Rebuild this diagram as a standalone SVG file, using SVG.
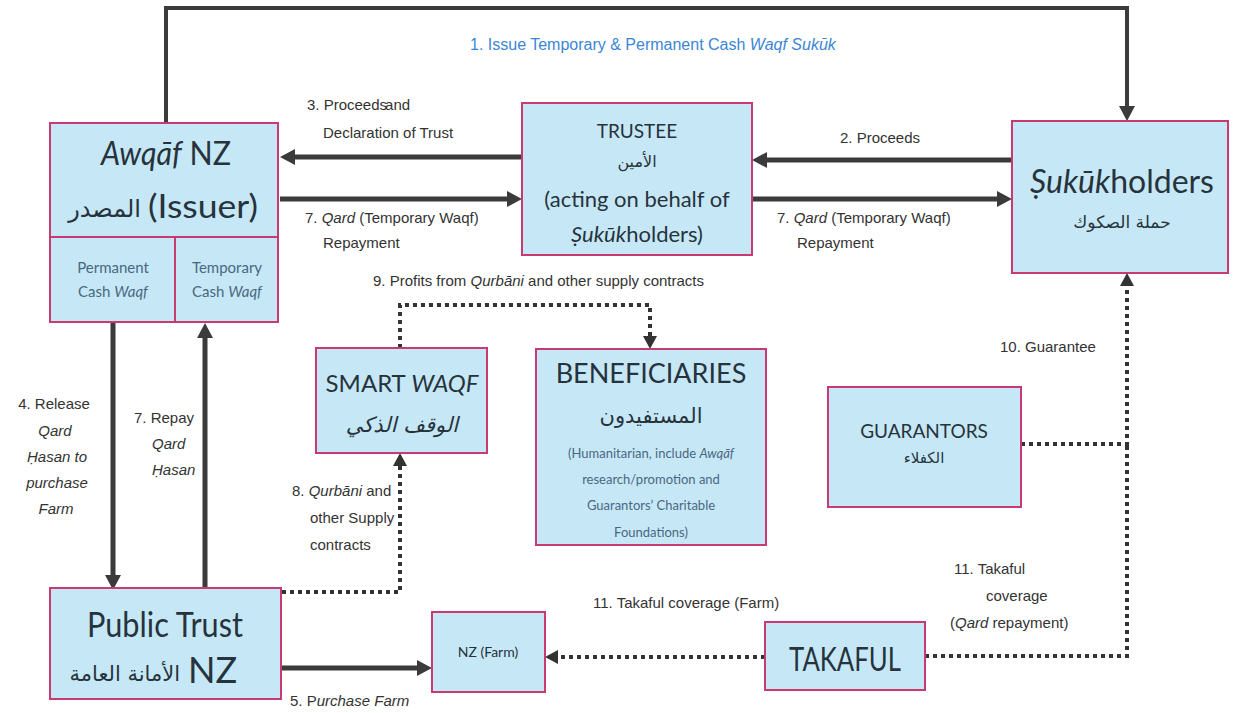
<svg xmlns="http://www.w3.org/2000/svg" width="1239" height="713" viewBox="0 0 1239 713">
<style>
.box{fill:#c6e8f6;stroke:#c93a72;stroke-width:2}
.t{font-family:Lato,"Open Sans",sans-serif;fill:#26333d;text-anchor:middle}
.ar{font-family:"DejaVu Sans",sans-serif;fill:#26333d}
.sub{font-family:Lato,"Open Sans",sans-serif;fill:#4a6782;text-anchor:middle;font-size:15px}
.lbl{font-family:"Liberation Sans",Arial,sans-serif;font-size:15px;fill:#333}
.thick{stroke:#3b3b3b;stroke-width:5;fill:none}
.thin{stroke:#3b3b3b;stroke-width:4;fill:none}
.dot{stroke:#333;stroke-width:4;stroke-dasharray:4 4;fill:none}
.i{font-style:italic}
</style>
<defs>
<marker id="ah" markerUnits="userSpaceOnUse" markerWidth="16" markerHeight="16" viewBox="0 0 16 16" refX="6" refY="8" orient="auto"><path d="M0,0 L15,8 L0,16 z" fill="#3b3b3b"/></marker>
<marker id="ahd" markerUnits="userSpaceOnUse" markerWidth="14" markerHeight="14" viewBox="0 0 14 14" refX="5" refY="7" orient="auto"><path d="M0,0 L13,7 L0,14 z" fill="#333"/></marker>
</defs>
<g id="connectors">
<path class="thin" d="M166,123 V8 H1127 V112" marker-end="url(#ah)"/>
<path class="thick" d="M522,157 H289" marker-end="url(#ah)"/>
<path class="thick" d="M280,199 H513" marker-end="url(#ah)"/>
<path class="thick" d="M1012,160 H761" marker-end="url(#ah)"/>
<path class="thick" d="M752,199 H1003" marker-end="url(#ah)"/>
<path class="thick" d="M113,323 V581" marker-end="url(#ah)"/>
<path class="thick" d="M205,590 V332" marker-end="url(#ah)"/>
<path class="thick" d="M281,668 H423" marker-end="url(#ah)"/>
<path class="dot" d="M400,348 V305 H650 V341" marker-end="url(#ahd)"/>
<path class="dot" d="M282,592 H400 V461" marker-end="url(#ahd)"/>
<path class="dot" d="M1021,444 H1127 V281" marker-end="url(#ahd)"/>
<path class="dot" d="M925,656 H1127 V444"/>
<path class="dot" d="M765,657 H553" marker-end="url(#ahd)"/>
<text class="lbl" x="470" y="50" style="fill:#3a86d6;font-size:16px">1. Issue Temporary &amp; Permanent Cash <tspan class="i">Waqf Sukūk</tspan></text>
<text class="lbl" x="307" y="110">3. Proceeds<tspan dx="-2">and</tspan></text>
<text class="lbl" x="323" y="138">Declaration of Trust</text>
<text class="lbl" x="305" y="223">7. <tspan class="i">Qard</tspan> (Temporary Waqf)</text>
<text class="lbl" x="323" y="248">Repayment</text>
<text class="lbl" x="840" y="143">2. Proceeds</text>
<text class="lbl" x="777" y="223">7. <tspan class="i">Qard</tspan> (Temporary Waqf)</text>
<text class="lbl" x="797" y="248">Repayment</text>
<text class="lbl" x="373" y="286">9. Profits from <tspan class="i">Qurbāni</tspan> and other supply contracts</text>
<text class="lbl" x="292" y="496">8. <tspan class="i">Qurbāni</tspan> and</text>
<text class="lbl" x="310" y="523">other Supply</text>
<text class="lbl" x="310" y="550">contracts</text>
<g class="lbl" text-anchor="middle">
<text x="54" y="409">4. Release</text>
<text x="55" y="436" class="i">Qard</text>
<text x="57" y="462" class="i">Ḥasan to</text>
<text x="57" y="488" class="i">purchase</text>
<text x="56" y="514" class="i">Farm</text>
</g>
<text class="lbl" x="134" y="423">7. Repay</text>
<text class="lbl i" x="152" y="449">Qard</text>
<text class="lbl i" x="152" y="475">Ḥasan</text>
<text class="lbl" x="1000" y="352">10. Guarantee</text>
<text class="lbl" x="954" y="574">11. Takaful</text>
<text class="lbl" x="986" y="601">coverage</text>
<text class="lbl" x="950" y="628">(<tspan class="i">Qard</tspan> repayment)</text>
<text class="lbl" x="593" y="608">11. Takaful coverage (Farm)</text>
<text class="lbl" x="290" y="706">5. P<tspan class="i">urchase Farm</tspan></text>
</g>
<g id="awqaf">
<rect class="box" x="50" y="123" width="228" height="199"/>
<line x1="50" y1="237" x2="278" y2="237" stroke="#c93a72" stroke-width="2"/>
<line x1="175" y1="237" x2="175" y2="322" stroke="#c93a72" stroke-width="2"/>
<text class="t" x="166" y="165" font-size="32" textLength="130" lengthAdjust="spacingAndGlyphs"><tspan class="i">Awqāf</tspan> NZ</text>
<text class="ar" x="141" y="217" font-size="24" text-anchor="end">المصدر</text>
<text class="t" x="148" y="218" font-size="32" style="text-anchor:start" textLength="110" lengthAdjust="spacingAndGlyphs">(Issuer)</text>
<text class="sub" x="113" y="273">Permanent</text>
<text class="sub" x="113" y="297">Cash <tspan class="i">Waqf</tspan></text>
<text class="sub" x="227" y="273">Temporary</text>
<text class="sub" x="227" y="297">Cash <tspan class="i">Waqf</tspan></text>
</g>
<g id="trustee">
<rect class="box" x="522" y="103" width="230" height="152"/>
<text class="t" x="637" y="138" font-size="19">TRUSTEE</text>
<text class="ar" x="637" y="167" font-size="16" text-anchor="middle">الأمين</text>
<text class="t" x="637" y="207" font-size="22">(acting on behalf of</text>
<text class="t" x="637" y="242" font-size="22"><tspan class="i">Ṣukūk</tspan>holders)</text>
</g>
<g id="sukukholders">
<rect class="box" x="1012" y="121" width="216" height="152"/>
<text class="t" x="1122" y="193" font-size="32"><tspan class="i">Ṣukūk</tspan>holders</text>
<text class="ar" x="1122" y="228" font-size="17" text-anchor="middle">حملة الصكوك</text>
</g>
<g id="smartwaqf">
<rect class="box" x="316" y="348" width="171" height="105"/>
<text class="t" x="402" y="392" font-size="24">SMART <tspan class="i">WAQF</tspan></text>
<text class="ar i" x="402" y="432" font-size="21" text-anchor="middle">الوقف الذكي</text>
</g>
<g id="beneficiaries">
<rect class="box" x="536" y="349" width="230" height="196"/>
<text class="t" x="651" y="383" font-size="27">BENEFICIARIES</text>
<text class="ar" x="651" y="423" font-size="21" text-anchor="middle">المستفيدون</text>
<text class="sub" x="651" y="458" style="font-size:13px">(Humanitarian, include <tspan class="i">Awqāf</tspan></text>
<text class="sub" x="651" y="484" style="font-size:13px">research/promotion and</text>
<text class="sub" x="651" y="510" style="font-size:13px">Guarantors’ Charitable</text>
<text class="sub" x="651" y="537" style="font-size:13px">Foundations)</text>
</g>
<g id="guarantors">
<rect class="box" x="828" y="387" width="193" height="120"/>
<text class="t" x="924" y="438" font-size="19">GUARANTORS</text>
<text class="ar" x="924" y="463" font-size="15" text-anchor="middle">الكفلاء</text>
</g>
<g id="publictrust">
<rect class="box" x="50" y="588" width="231" height="111"/>
<text class="t" x="165" y="637" font-size="34" textLength="156" lengthAdjust="spacingAndGlyphs">Public Trust</text>
<text class="ar" x="180" y="681" font-size="21" text-anchor="end">الأمانة العامة</text>
<text class="t" x="188" y="683" font-size="36" style="text-anchor:start">NZ</text>
</g>
<g id="farm">
<rect class="box" x="432" y="612" width="113" height="80"/>
<text class="t" x="488" y="657" font-size="14">NZ (Farm)</text>
</g>
<g id="takaful">
<rect class="box" x="765" y="622" width="160" height="68"/>
<text class="t" x="845" y="671" font-size="33" textLength="112" lengthAdjust="spacingAndGlyphs">TAKAFUL</text>
</g>
</svg>
